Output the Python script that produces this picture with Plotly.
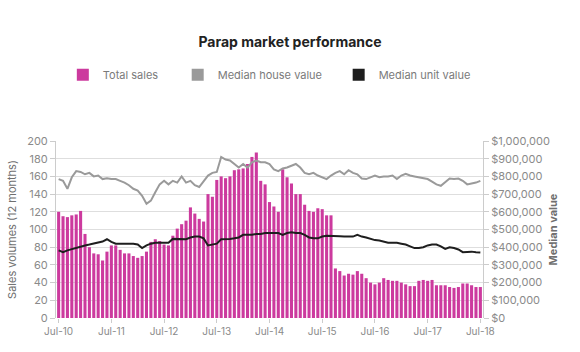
import plotly.graph_objects as go

months = list(range(97))  # Jul-10 .. Jul-18 monthly
tick_vals = [0, 12, 24, 36, 48, 60, 72, 84, 96]
tick_text = ["Jul-10", "Jul-11", "Jul-12", "Jul-13", "Jul-14", "Jul-15", "Jul-16", "Jul-17", "Jul-18"]

total_sales = [
    120, 115, 114, 116, 117, 121, 95, 80, 73, 72, 65, 75,
    82, 82, 77, 73, 73, 70, 68, 70, 75, 86, 89, 87,
    83, 82, 93, 101, 106, 110, 125, 118, 112, 109, 140, 137,
    156, 160, 158, 160, 167, 168, 169, 174, 182, 187, 155, 151,
    131, 126, 120, 168, 159, 152, 140, 140, 128, 121, 120, 124,
    123, 116, 116, 56, 53, 48, 50, 49, 53, 50, 45, 40,
    38, 40, 45, 43, 42, 42, 40, 38, 36, 36, 42, 43,
    42, 43, 37, 37, 37, 35, 34, 35, 39, 39, 37, 35, 35,
]

house_value = [
    785000, 775000, 730000, 795000, 830000, 825000, 812000, 820000, 800000, 805000, 785000, 790000,
    785000, 785000, 775000, 765000, 750000, 730000, 720000, 690000, 645000, 663000, 710000, 755000,
    775000, 755000, 775000, 765000, 800000, 765000, 775000, 750000, 740000, 775000, 805000, 820000,
    825000, 910000, 895000, 890000, 870000, 850000, 870000, 850000, 880000, 890000, 880000, 880000,
    870000, 840000, 830000, 845000, 850000, 860000, 870000, 850000, 820000, 812000, 820000, 805000,
    795000, 785000, 805000, 820000, 830000, 812000, 835000, 820000, 812000, 788000, 785000, 795000,
    805000, 795000, 800000, 800000, 805000, 785000, 805000, 815000, 805000, 800000, 795000, 788000,
    785000, 770000, 755000, 747000, 765000, 788000, 785000, 788000, 775000, 755000, 760000, 765000, 775000,
]

unit_value = [
    382000, 372000, 382000, 390000, 395000, 405000, 410000, 415000, 420000, 425000, 432000, 445000,
    430000, 420000, 420000, 420000, 420000, 420000, 415000, 395000, 410000, 420000, 425000, 425000,
    425000, 425000, 447000, 447000, 447000, 445000, 455000, 460000, 460000, 450000, 410000, 415000,
    420000, 445000, 445000, 447000, 450000, 455000, 470000, 470000, 470000, 475000, 475000, 480000,
    480000, 480000, 480000, 470000, 480000, 485000, 480000, 480000, 470000, 455000, 450000, 450000,
    460000, 465000, 465000, 462000, 462000, 460000, 460000, 460000, 470000, 460000, 455000, 447000,
    440000, 438000, 432000, 425000, 425000, 425000, 420000, 415000, 405000, 395000, 395000, 400000,
    410000, 415000, 415000, 405000, 390000, 400000, 395000, 387000, 372000, 375000, 375000, 372000, 370000,
]

pink = "#CC3A9E"
gray_line = "#9A9A9A"
black_line = "#1E1E1E"
font_family = "Inter, Roboto, 'Open Sans', sans-serif"

fig = go.Figure()

fig.add_trace(go.Bar(
    x=months, y=total_sales, name="Total sales", marker=dict(color=pink, line=dict(width=0)),
    legend="legend", yaxis="y",
))
fig.add_trace(go.Scatter(
    x=months, y=house_value, mode="lines", line=dict(color=gray_line, width=2),
    name="Median house value", showlegend=False, yaxis="y2",
))
fig.add_trace(go.Scatter(
    x=months, y=unit_value, mode="lines", line=dict(color=black_line, width=2),
    name="Median unit value", showlegend=False, yaxis="y2",
))
# legend-only entries with square swatches
fig.add_trace(go.Scatter(
    x=[None], y=[None], mode="markers", name="Median house value",
    marker=dict(symbol="square", size=12, color=gray_line), legend="legend2", yaxis="y2",
))
fig.add_trace(go.Scatter(
    x=[None], y=[None], mode="markers", name="Median unit value",
    marker=dict(symbol="square", size=12, color=black_line), legend="legend3", yaxis="y2",
))

legend_common = dict(orientation="h", yanchor="middle", y=1.375, xanchor="left",
                     font=dict(size=11, color="#7a7a7a", family=font_family),
                     bgcolor="rgba(0,0,0,0)", borderwidth=0)

fig.update_layout(
    width=580, height=352,
    margin=dict(l=43, r=97, t=141, b=34),
    paper_bgcolor="white", plot_bgcolor="white",
    font=dict(family=font_family, color="#888888", size=10),
    title=dict(text="<b>Parap market performance</b>", x=0.5, xref="container", xanchor="center",
               y=1 - 42 / 352, yref="container", yanchor="middle",
               font=dict(size=14, color="#222222", family=font_family)),
    bargap=0.3,
    barmode="overlay",
    legend=dict(x=0.016, **legend_common),
    legend2=dict(x=0.285, **legend_common),
    legend3=dict(x=0.662, **legend_common),
    xaxis=dict(
        range=[-0.6, 96.6], tickmode="array", tickvals=tick_vals, ticktext=tick_text,
        showgrid=False, zeroline=False, showline=False,
        ticks="outside", ticklen=4, tickcolor="#cccccc",
        tickfont=dict(size=10, color="#8a8a8a"),
    ),
    yaxis=dict(
        range=[0, 200], dtick=20, showgrid=True, gridcolor="#dedede", gridwidth=1,
        zeroline=False, showline=True, linecolor="#cccccc", linewidth=1,
        ticks="outside", ticklen=5, tickcolor="#cccccc",
        tickfont=dict(size=11, color="#8a8a8a"),
        title=dict(text="Sales volumes (12 months)", font=dict(size=11, color="#6f6f6f"), standoff=8),
    ),
    yaxis2=dict(
        range=[0, 1000000], dtick=100000, overlaying="y", side="right",
        showgrid=False, zeroline=False, showline=True, linecolor="#cccccc", linewidth=1,
        ticks="outside", ticklen=5, tickcolor="#cccccc",
        tickprefix="$", tickformat=",d",
        tickfont=dict(size=11, color="#8a8a8a"),
        title=dict(text="<b>Median value</b>", font=dict(size=11, color="#6f6f6f"), standoff=0),
    ),
)

fig.write_html("out.html")
